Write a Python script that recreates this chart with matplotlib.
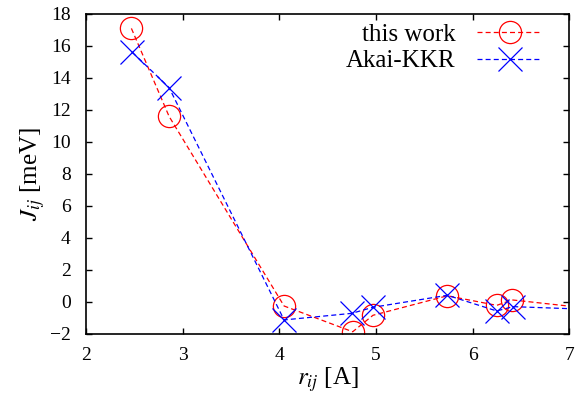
import matplotlib
matplotlib.use("Agg")
import matplotlib.pyplot as plt

plt.rcParams['font.family'] = ['Liberation Serif', 'DejaVu Serif']
plt.rcParams['mathtext.fontset'] = 'stix'

r_this = [2.47, 2.86, 4.05, 4.76, 4.97, 5.74, 6.25, 6.41, 7.20]
j_this = [17.1, 11.6, -0.25, -1.86, -0.83, 0.39, -0.21, 0.13, -0.39]

r_akai = [2.48, 2.86, 4.05, 4.75, 4.97, 5.74, 6.25, 6.42, 7.20]
j_akai = [15.6, 13.4, -1.12, -0.71, -0.33, 0.42, -0.56, -0.29, -0.46]

xticks = [2, 3, 4, 5, 6, 7]
yticks = [-2, 0, 2, 4, 6, 8, 10, 12, 14, 16, 18]

fig = plt.figure(figsize=(5.79, 4.0), dpi=100)
ax = fig.add_axes([0.1485, 0.165, 0.8345, 0.80])

ax.plot(r_this, j_this, color='red', ls=(0, (4, 2.5)), lw=0.9,
        marker='o', mfc='none', mec='red', ms=16, mew=0.9, label='this work')
ax.plot(r_akai, j_akai, color='blue', ls=(0, (4, 2.5)), lw=0.9,
        marker='x', mec='blue', ms=17, mew=0.9, label='Akai-KKR')

ax.set_xlim(2, 7)
ax.set_ylim(-2, 18)
ax.set_xticks(xticks)
ax.set_yticks(yticks)
ax.tick_params(direction='in', top=True, right=True, labelsize=14, length=4, width=1)
ax.tick_params(axis='y', pad=11)
ax.tick_params(axis='x', pad=9)
for s in ax.spines.values():
    s.set_linewidth(1.2)

ax.set_xlabel(r'$r_{ij}$ [A]', fontsize=18, labelpad=1)
ax.set_ylabel(r'$J_{ij}$ [meV]', fontsize=18, labelpad=2)

ax.legend(loc='upper right', frameon=False, markerfirst=False, fontsize=18,
          handlelength=2.6, handletextpad=0.85, borderaxespad=0, borderpad=0,
          labelspacing=0.15, bbox_to_anchor=(0.944, 0.97))

fig.savefig('out.png', dpi=100)
